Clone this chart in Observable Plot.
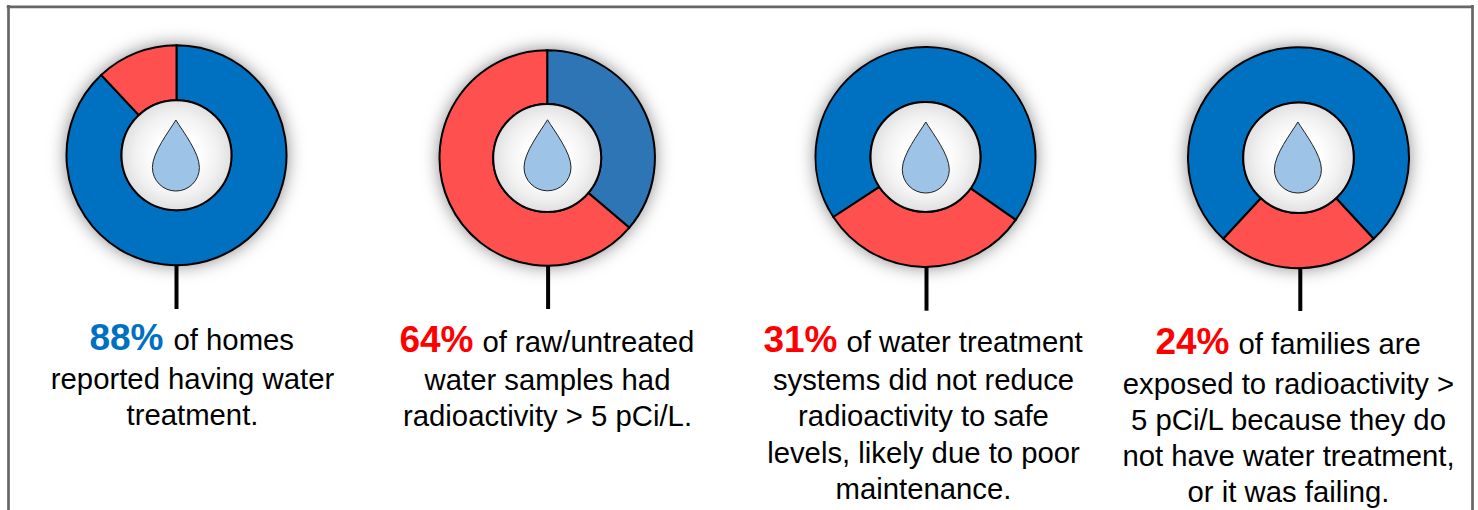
<!DOCTYPE html>
<html>
<head>
<meta charset="utf-8">
<script src="https://cdn.jsdelivr.net/npm/d3@7"></script>
<script src="https://cdn.jsdelivr.net/npm/@observablehq/plot@0.6"></script>
<style>
html,body{margin:0;padding:0;background:#fff;overflow:hidden}
svg{display:block}
</style>
</head>
<body>
<div id="chart"></div>
<script>
// ---- data ----
const panels = ["homes", "raw", "systems", "families"];
const bluePct = [88, 36.2, 68.9, 76.2];
const redPct = [12, 63.8, 31.1, 23.8];
const headline = ["88%", "64%", "31%", "24%"];
const firstLine = ["of homes", "of raw/untreated", "of water treatment", "of families are"];
const otherLines = [
  ["reported having water", "treatment."],
  ["water samples had", "radioactivity > 5 pCi/L."],
  ["systems did not reduce", "radioactivity to safe", "levels, likely due to poor", "maintenance."],
  ["exposed to radioactivity >", "5 pCi/L because they do", "not have water treatment,", "or it was failing."]
];

// ---- layout and style (not data) ----
const W = 1478, H = 510;
const cx = [176, 546.7, 925, 1298];
const cy = [154.7, 157.5, 156.4, 157.2];
const R = [110, 107.7, 110, 110.5];
const rIn = [55, 54, 55, 55.3];
const dropX = [175.4, 547, 925.3, 1297.4];
const dropY = [155, 154.8, 157, 157];
const stemX = [176, 547.6, 926, 1299.8];
const stemEnd = [309, 309, 310.7, 311];
const redStartTurn = [0.88, 0.362, 0.347, 0.381];
const textCx = [192, 547, 923, 1288];
const junction = [163, 473, 837, 1229];
const baselines = [
  [349, 388, 424],
  [351, 389, 425],
  [351, 389, 425, 462, 498.5],
  [353.5, 393, 429, 465, 501]
];
const BLUE = ["#0070c0", "#2e75b6", "#0070c0", "#0070c0"];
const RED = "#ff5050";
const FONT = "'Liberation Sans', Arial, sans-serif";

// ---- tables ----
const rows = panels.map((p, i) => ({p, i}));
const arcSymbol = (i, startTurn, endTurn) => ({
  draw(ctx) {
    d3.arc().context(ctx)({
      innerRadius: rIn[i], outerRadius: R[i],
      startAngle: startTurn * 2 * Math.PI, endAngle: endTurn * 2 * Math.PI
    });
  }
});
const dropSymbol = {
  draw(ctx) {
    ctx.moveTo(0, -35.5);
    ctx.bezierCurveTo(7, -24, 23.5, -3, 23.5, 12);
    ctx.bezierCurveTo(23.5, 25, 13, 35.5, 0, 35.5);
    ctx.bezierCurveTo(-13, 35.5, -23.5, 25, -23.5, 12);
    ctx.bezierCurveTo(-23.5, -3, -7, -24, 0, -35.5);
    ctx.closePath();
  }
};
const lineRows = otherLines.flatMap((ls, i) => ls.map((t, k) => ({
  t, x: textCx[i], y: baselines[i][k + 1]
})));

const defs = () => {
  const d = d3.create("svg:defs");
  const g = d.append("radialGradient").attr("id", "hole");
  [[40, "#ffffff"], [75, "#f1f1f1"], [100, "#e0e0e0"]].forEach(([o, c]) =>
    g.append("stop").attr("offset", o + "%").attr("stop-color", c));
  return d.node();
};

const sliceMarks = rows.flatMap(({i}) => {
  const s = redStartTurn[i], e = s + redPct[i] / 100;
  const be = e + bluePct[i] / 100;
  const one = (a, b, fill) => Plot.dot([i], {
    x: j => cx[j], y: j => cy[j], r: 1,
    symbol: arcSymbol(i, a, b), fill, stroke: "#000", strokeWidth: 2
  });
  return [one(e, be, BLUE[i]), one(s, e, RED)];
});

const plot = Plot.plot({
  width: W, height: H,
  marginTop: 0, marginRight: 0, marginBottom: 0, marginLeft: 0,
  x: {domain: [0, W], range: [0, W], axis: null},
  y: {domain: [0, H], range: [0, H], axis: null},
  marks: [
    defs,
    Plot.ruleX([8, 1472], {y1: 5, y2: H, stroke: "#666666", strokeWidth: 2.7}),
    Plot.ruleY([6.4], {x1: 6.7, x2: 1473.3, stroke: "#666666", strokeWidth: 2.7}),
    // ring base that casts the soft shadow
    ...rows.map(({i}) => Plot.dot([i], {
      x: j => cx[j], y: j => cy[j], r: 1, symbol: arcSymbol(i, 0, 1), fill: "#808080",
      imageFilter: "drop-shadow(0 0 9px rgba(0,0,0,0.5))"
    })),
    ...sliceMarks,
    // hole
    ...rows.map(({i}) => Plot.dot([i], {
      x: j => cx[j], y: j => cy[j], r: rIn[i], fill: "url(#hole)", stroke: "#000", strokeWidth: 2
    })),
    // droplet
    Plot.dot(rows, {
      x: d => dropX[d.i], y: d => dropY[d.i], r: 1, symbol: dropSymbol,
      fill: "#9dc3e6", stroke: "#222", strokeWidth: 1
    }),
    // stem
    Plot.ruleX(rows, {
      x: d => stemX[d.i], y1: d => cy[d.i] + R[d.i], y2: d => stemEnd[d.i],
      stroke: "#000", strokeWidth: 4
    }),
    // text
    Plot.text(rows, {
      x: d => junction[d.i], y: d => baselines[d.i][0], text: d => headline[d.i],
      textAnchor: "end", lineAnchor: "bottom", fontFamily: FONT, fontSize: 37, fontWeight: "bold",
      fill: d => d.i === 0 ? "#0070c0" : "#ff0000"
    }),
    Plot.text(rows, {
      x: d => junction[d.i] + (d.i === 0 ? 10 : 9), y: d => baselines[d.i][0], text: d => firstLine[d.i],
      textAnchor: "start", lineAnchor: "bottom", fontFamily: FONT, fontSize: 29.3, fill: "#000"
    }),
    Plot.text(lineRows, {
      x: "x", y: "y", text: "t",
      textAnchor: "middle", lineAnchor: "bottom", fontFamily: FONT, fontSize: 29.3, fill: "#000"
    })
  ]
});
document.getElementById("chart").append(plot);
</script>
</body>
</html>
